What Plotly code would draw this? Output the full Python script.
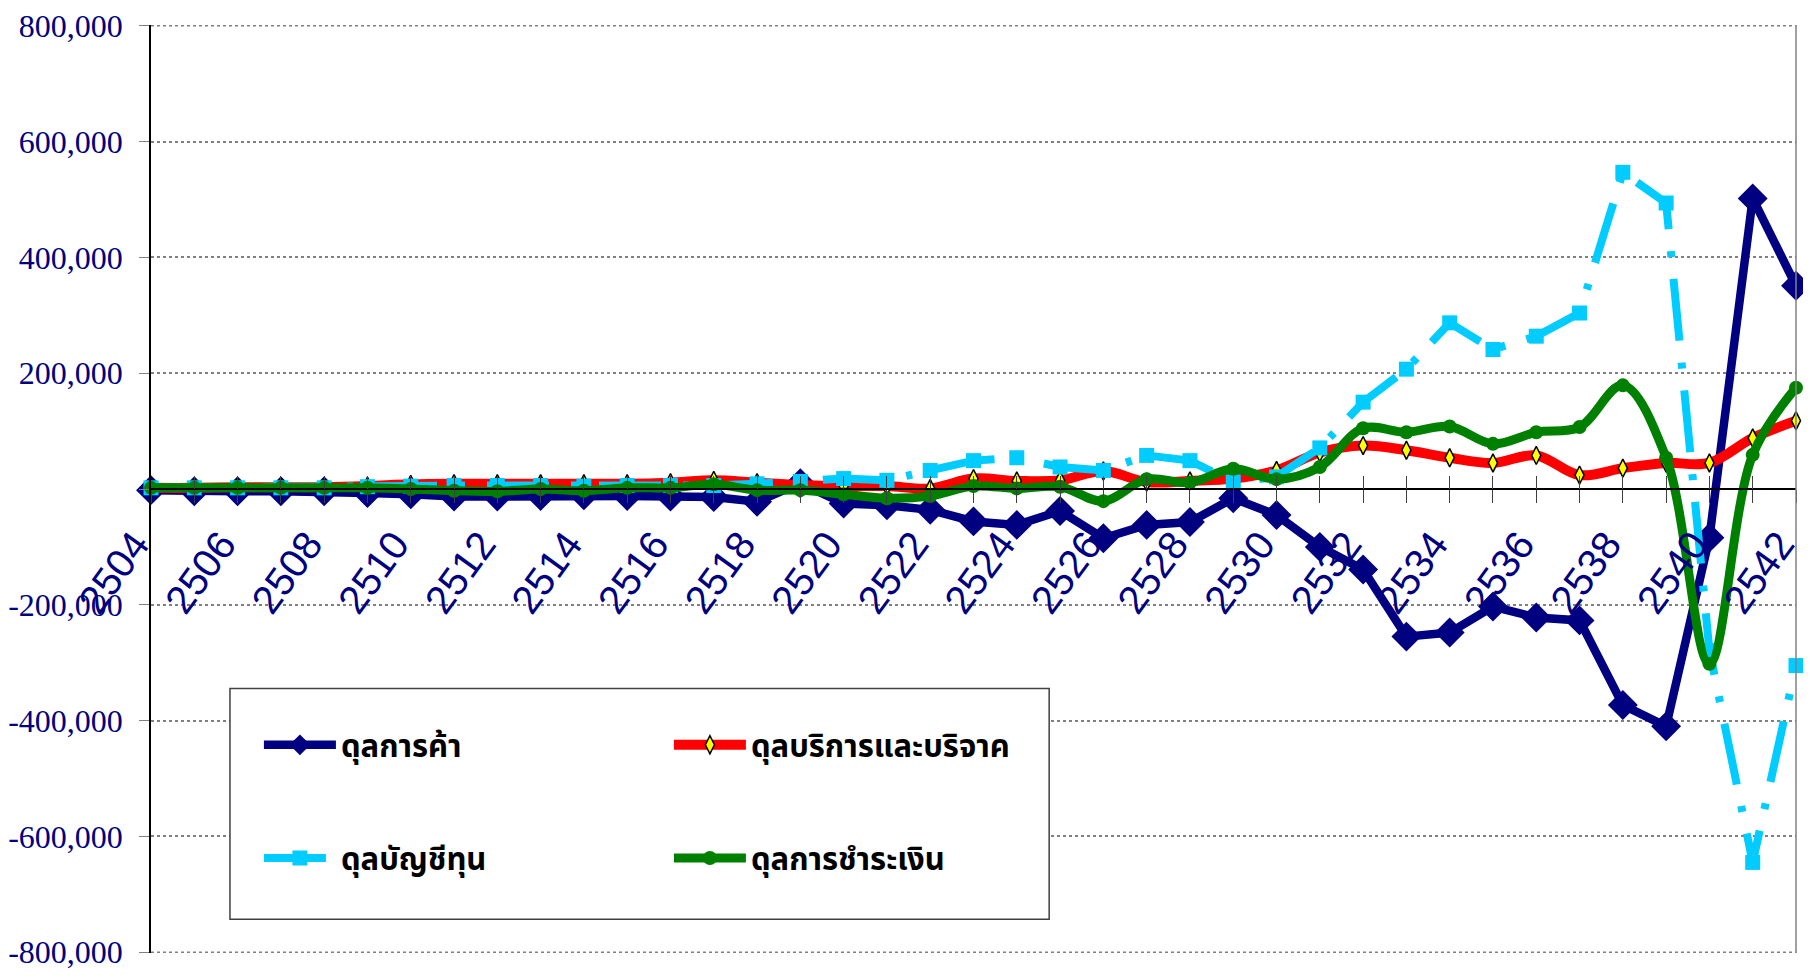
import plotly.graph_objects as go

# ---------------- data ----------------
years = list(range(2504, 2543))

trade = [-2000, -4000, -4000, -4000, -4000, -7000, -9000, -13000, -13000, -12000,
         -11000, -12000, -13000, -14000, -22000, 10000, -25000, -28000, -36000, -56000,
         -62000, -38000, -85000, -62000, -57000, -16000, -45000, -100000, -139000, -255000,
         -248000, -203000, -222000, -227000, -373000, -410000, -84000, 502000, 351000]

services = [2000, 2000, 3000, 3000, 3000, 5000, 8000, 9000, 9000, 9000,
            9000, 9000, 11000, 15000, 11000, 7000, 5000, 5000, 1000, 18000,
            14000, 15000, 31000, 12000, 14000, 18000, 32000, 63000, 75000, 67000,
            54000, 45000, 58000, 24000, 36000, 45000, 45000, 88000, 118000]

capital = [2000, 2000, 2000, 2000, 2000, 4000, 5000, 6000, 6000, 6000,
           5000, 6000, 6000, 6000, 9000, 13000, 18000, 15000, 32000, 49000,
           54000, 38000, 32000, 58000, 49000, 12000, 21000, 71000, 150000, 207000,
           287000, 241000, 264000, 304000, 547000, 494000, -279000, -645000, -305000]

payments = [2000, 2000, 2000, 2000, 2000, 2000, 0, -3000, -4000, 0,
            -3000, 2000, 2000, 8000, -2000, -2000, -9000, -16000, -12000, 5000,
            1000, 4000, -21000, 17000, 11000, 35000, 17000, 38000, 105000, 98000,
            108000, 78000, 98000, 107000, 179000, 54000, -302000, 59000, 175000]

series_names = ["ดุลการค้า", "ดุลบริการและบริจาค", "ดุลบัญชีทุน", "ดุลการชำระเงิน"]

x_tick_text = [str(y) if (y - years[0]) % 2 == 0 else "" for y in years]
y_tick_vals = [800000, 600000, 400000, 200000, 0, -200000, -400000, -600000, -800000]
y_tick_text = ["800,000", "600,000", "400,000", "200,000", "",
               "-200,000", "-400,000", "-600,000", "-800,000"]
y_range = [-801500, 801500]

NAVY = "#000080"
THAI_FONT = "Noto Sans Thai, Noto Sans, DejaVu Sans, sans-serif"

fig = go.Figure()

fig.add_trace(go.Scatter(
    x=years, y=trade, name=series_names[0], mode="lines+markers",
    line=dict(color=NAVY, width=8.5),
    marker=dict(symbol="diamond", size=23, color=NAVY),
    cliponaxis=False, legend="legend"))

fig.add_trace(go.Scatter(
    x=years, y=services, name=series_names[1], mode="lines+markers",
    line=dict(color="#FF0000", width=10, shape="spline", smoothing=1),
    marker=dict(symbol="diamond-tall", size=13, color="#FFFF00",
                line=dict(color="black", width=1.5)),
    cliponaxis=False, legend="legend"))

fig.add_trace(go.Scatter(
    x=years, y=capital, name=series_names[2], mode="lines+markers",
    line=dict(color="#00CCFF", width=8, dash="62px,22px,6px,22px"),
    marker=dict(symbol="square", size=15, color="#00CCFF"),
    cliponaxis=False, legend="legend2"))

fig.add_trace(go.Scatter(
    x=years, y=payments, name=series_names[3], mode="lines+markers",
    line=dict(color="#008000", width=9, shape="spline", smoothing=1),
    marker=dict(symbol="circle", size=14, color="#008000"),
    cliponaxis=False, legend="legend2", xaxis="x2"))

# legend frame in paper coords
L0, L1, B0, B1 = 0.048, 0.546, 0.0365, 0.2851

grid_style = dict(color="#808080", width=1.5, dash="dot")

fig.update_layout(
    width=1795, height=962,
    margin=dict(l=135, r=0, t=16, b=13),
    paper_bgcolor="white", plot_bgcolor="white",
    showlegend=True,
    xaxis=dict(
        type="linear", range=[years[0], years[-1]],
        anchor="free", position=0.5,
        tickmode="array", tickvals=years, ticktext=x_tick_text,
        ticks="outside", ticklen=13, tickwidth=1.2, tickcolor="#404040",
        tickangle=-54, ticklabelstandoff=2, ticklabelshift=-16,
        ticklabeloverflow="allow",
        tickfont=dict(family="Liberation Sans, Arial, sans-serif", size=40, color=NAVY),
        showline=True, linecolor="black", linewidth=1.5,
        showgrid=False, zeroline=False),
    xaxis2=dict(
        type="linear", range=[years[0], years[-1]], overlaying="x",
        anchor="free", position=0.5,
        tickmode="array", tickvals=years,
        ticks="inside", ticklen=13, tickwidth=1.2, tickcolor="#404040",
        showticklabels=False, showline=False, showgrid=False, zeroline=False),
    yaxis=dict(
        range=y_range,
        tickmode="array", tickvals=y_tick_vals, ticktext=y_tick_text,
        ticks="outside", ticklen=10, tickcolor="#808080", tickwidth=1.2,
        ticklabelstandoff=10, ticklabeloverflow="allow",
        tickfont=dict(family="Liberation Serif, Times New Roman, serif", size=32, color=NAVY),
        showline=True, linecolor="black", linewidth=1.5,
        showgrid=True, gridcolor="#808080", griddash="dot", gridwidth=1.5,
        zeroline=False),
    legend=dict(
        orientation="h", x=0.0656, xanchor="left", y=0.224, yanchor="middle",
        entrywidth=323, entrywidthmode="pixels", itemwidth=72,
        bgcolor="rgba(0,0,0,0)", borderwidth=0,
        font=dict(family=THAI_FONT, size=31, color="black", weight="bold")),
    legend2=dict(
        orientation="h", x=0.0656, xanchor="left", y=0.102, yanchor="middle",
        entrywidth=323, entrywidthmode="pixels", itemwidth=72,
        bgcolor="rgba(0,0,0,0)", borderwidth=0,
        font=dict(family=THAI_FONT, size=31, color="black", weight="bold")),
    shapes=[
        # outer gridlines at the ends of the value range
        dict(type="line", xref="paper", yref="y", x0=0, x1=1,
             y0=y_tick_vals[0], y1=y_tick_vals[0], line=grid_style, layer="below"),
        dict(type="line", xref="paper", yref="y", x0=0, x1=1,
             y0=y_tick_vals[-1], y1=y_tick_vals[-1], line=grid_style, layer="below"),
        dict(type="rect", xref="paper", yref="paper", x0=L0, x1=L1, y0=B0, y1=B1,
             line=dict(color="#404040", width=1.5), fillcolor="white", layer="above"),
        dict(type="line", xref="paper", yref="paper", x0=1, x1=1, y0=0, y1=1,
             line=dict(color="#808080", width=1.5)),
    ],
)

fig.write_html("out.html")
